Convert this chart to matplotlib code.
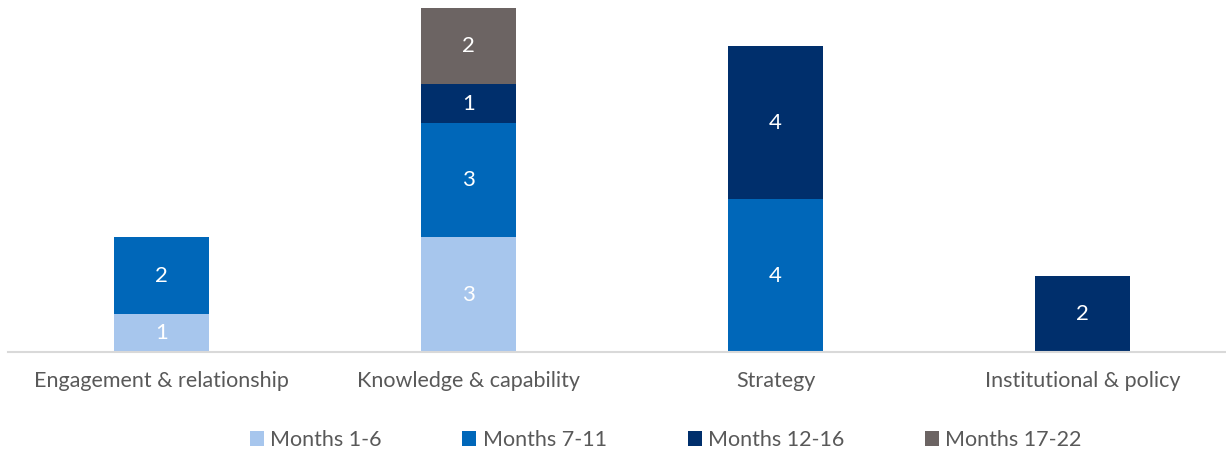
import matplotlib
matplotlib.use("Agg")
import matplotlib.pyplot as plt
import numpy as np

plt.rcParams['font.family'] = ['Lato', 'DejaVu Sans']

categories = ["Engagement & relationship", "Knowledge & capability", "Strategy", "Institutional & policy"]
series_names = ["Months 1-6", "Months 7-11", "Months 12-16", "Months 17-22"]
m1_6 = [1, 3, 0, 0]
m7_11 = [2, 3, 4, 0]
m12_16 = [0, 1, 4, 2]
m17_22 = [0, 2, 0, 0]
series = [m1_6, m7_11, m12_16, m17_22]
colours = ["#A7C6ED", "#0067B9", "#002F6C", "#6C6463"]

W, H = 1226, 454
fig = plt.figure(figsize=(W / 100, H / 100), dpi=100)
ax = fig.add_axes([8 / W, (H - 352) / H, 1228 / W, (352 - 8) / H])

x = np.arange(len(categories))
bottom = np.zeros(len(categories))
handles = []
for name, vals, col in zip(series_names, series, colours):
    vals = np.array(vals, dtype=float)
    bars = ax.bar(x, vals, 0.31, bottom=bottom, color=col, label=name)
    handles.append(bars)
    for xi, v, b in zip(x, vals, bottom):
        if v > 0:
            ax.text(xi, b + v / 2, f"{int(v)}", ha="center", va="center",
                    color="white", fontsize=16)
    bottom += vals

ax.set_xlim(-0.5, 3.5)
ax.set_ylim(0, 9)
for s in ["top", "right", "left"]:
    ax.spines[s].set_visible(False)
ax.spines["bottom"].set_color("#D9D9D9")
ax.spines["bottom"].set_linewidth(1.5)
ax.set_yticks([])
ax.set_xticks(x)
ax.set_xticklabels(categories, fontsize=15.5, color="#595959")
ax.tick_params(axis="x", length=0, pad=14)

fig.legend(handles=handles, labels=series_names, loc="center",
           bbox_to_anchor=(0.543, (H - 440) / H), ncol=4, frameon=False,
           fontsize=15.5, handlelength=0.65, handleheight=0.65, handletextpad=0.3,
           columnspacing=3.75, labelcolor="#595959")

fig.savefig("out.png", dpi=100)
